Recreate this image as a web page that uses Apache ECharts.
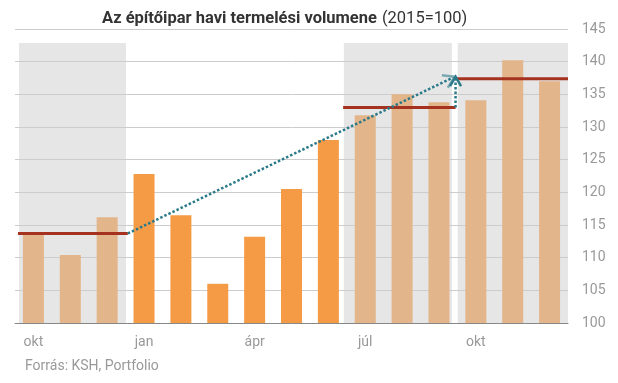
<!DOCTYPE html>
<html><head><meta charset="utf-8">
<script src="https://cdn.jsdelivr.net/npm/echarts@6/dist/echarts.min.js"></script>
<style>html,body{margin:0;padding:0;background:#fff}#c{width:618px;height:383px}</style>
</head><body><div id="c"></div>
<script>
const categories = ['okt','nov','dec','jan','feb','márc','ápr','máj','jún','júl','aug','szept','okt','nov','dec'];
const values = [113.5,110.4,116.2,122.8,116.5,106.0,113.2,120.5,128.0,131.8,135.0,133.8,134.1,140.2,137.0];
const highlighted = [false,false,false,true,true,true,true,true,true,false,false,false,false,false,false];
const yTicks = [100,105,110,115,120,125,130,135,140,145];
// shaded periods (category index units) and quarter averages
const shadeFrom = [-0.39, 8.42, 11.51];
const shadeTo = [2.51, 11.35, 14.5];
const shadeTop = 142.85;
const avgFrom = [-0.42, 8.40, 11.43];
const avgTo = [2.56, 11.45, 14.5];
const avgLevel = [113.7, 133.0, 137.4];
const arrowStart = [2.56, 113.7];
const arrowEnd = [11.43, 137.7];
const riseFrom = [11.45, 133.0];

const C_ORANGE = '#F59B45', C_TAN = '#E3B58A', C_SHADE = '#E6E6E6', C_RED = '#A5311F', C_TEAL = '#2A7A8A';

const chart = echarts.init(document.getElementById('c'), null, {renderer:'canvas'});
const shadeData = shadeFrom.map((f,i)=>[f, shadeTo[i], shadeTop]);
const avgData = avgFrom.map((f,i)=>[f, avgTo[i], avgLevel[i]]);

function arrowHead(tip, dirX, dirY, len, ang){
  const n = Math.hypot(dirX, dirY); const bx = -dirX/n, by = -dirY/n;
  const pts = [];
  for (const s of [1,-1]) {
    const a = s*ang*Math.PI/180;
    pts.push([tip[0] + len*(bx*Math.cos(a) - by*Math.sin(a)), tip[1] + len*(bx*Math.sin(a) + by*Math.cos(a))]);
  }
  return [pts[0], tip, pts[1]];
}

chart.setOption({
  animation:false,
  title:{
    text:'{b|Az építőipar havi termelési volumene} {n|(2015=100)}',
    left:97, top:5,
    textStyle:{rich:{
      b:{fontFamily:'Roboto',fontWeight:'bold',fontSize:16.5,color:'#333'},
      n:{fontFamily:'Roboto',fontWeight:'normal',fontSize:16.5,color:'#333'}
    }}
  },
  graphic:[{type:'text',left:25,top:359,style:{text:'Forrás: KSH, Portfolio',fill:'#999',font:'14px Roboto'}}],
  grid:{left:15,right:50,top:29,bottom:60,containLabel:false},
  xAxis:[{
    type:'category', data:categories, position:'bottom',
    axisLine:{lineStyle:{color:'#888',width:1}}, axisTick:{show:false},
    axisLabel:{interval:2,color:'#999',fontFamily:'Roboto',fontSize:14,margin:12}
  },{
    type:'value', min:-0.5, max:14.5, show:false
  }],
  yAxis:{
    type:'value', position:'right', min:100, max:145, interval:5,
    axisLine:{show:false}, axisTick:{show:false},
    axisLabel:{color:'#999',fontFamily:'Roboto',fontSize:14,margin:14,
      formatter:v=>yTicks.includes(v)?String(v):''},
    splitLine:{lineStyle:{color:'#CCCCCC',width:1}}
  },
  series:[
    {type:'custom', xAxisIndex:1, yAxisIndex:0, z:-1, clip:false, silent:true,
     data:shadeData,
     renderItem:(p,api)=>{
       const a = api.coord([api.value(0), api.value(2)]);
       const b = api.coord([api.value(1), 100]);
       return {type:'rect', shape:{x:a[0],y:a[1],width:b[0]-a[0],height:b[1]-a[1]}, style:{fill:C_SHADE}};
     }},
    {type:'bar', xAxisIndex:0, yAxisIndex:0, barWidth:21, z:2,
     data:values.map((v,i)=>({value:v,itemStyle:{color:highlighted[i]?C_ORANGE:C_TAN}}))},
    {type:'custom', xAxisIndex:1, yAxisIndex:0, z:5, clip:false, silent:true,
     data:avgData,
     renderItem:(p,api)=>{
       const a = api.coord([api.value(0), api.value(2)]);
       const b = api.coord([api.value(1), api.value(2)]);
       return {type:'line', shape:{x1:a[0],y1:a[1],x2:b[0],y2:b[1]}, style:{stroke:C_RED,lineWidth:3}};
     }},
    {type:'custom', xAxisIndex:1, yAxisIndex:0, z:6, clip:false, silent:true,
     data:[[arrowStart[0],arrowStart[1],arrowEnd[0],arrowEnd[1],riseFrom[0],riseFrom[1]]],
     renderItem:(p,api)=>{
       const s = api.coord([api.value(0), api.value(1)]);
       const e = api.coord([api.value(2), api.value(3)]);
       const r = api.coord([api.value(4), api.value(5)]);
       const et = [r[0], e[1]];
       const headD = arrowHead(e, e[0]-s[0], e[1]-s[1], 13, 32);
       const headV = arrowHead(et, 0, -1, 11, 30);
       return {type:'group', children:[
         {type:'line', shape:{x1:s[0],y1:s[1],x2:e[0],y2:e[1]}, style:{stroke:C_TEAL,lineWidth:2.5,lineDash:[2.5,2]}},
         {type:'line', shape:{x1:r[0],y1:r[1],x2:et[0],y2:et[1]}, style:{stroke:C_TEAL,lineWidth:2.5,lineDash:[2.5,2]}},
         {type:'polyline', shape:{points:headD}, style:{stroke:'#7AA8B1',lineWidth:2.5,fill:null}},
         {type:'polyline', shape:{points:headV}, style:{stroke:C_TEAL,lineWidth:2.5,fill:null}}
       ]};
     }}
  ]
});
</script></body></html>
